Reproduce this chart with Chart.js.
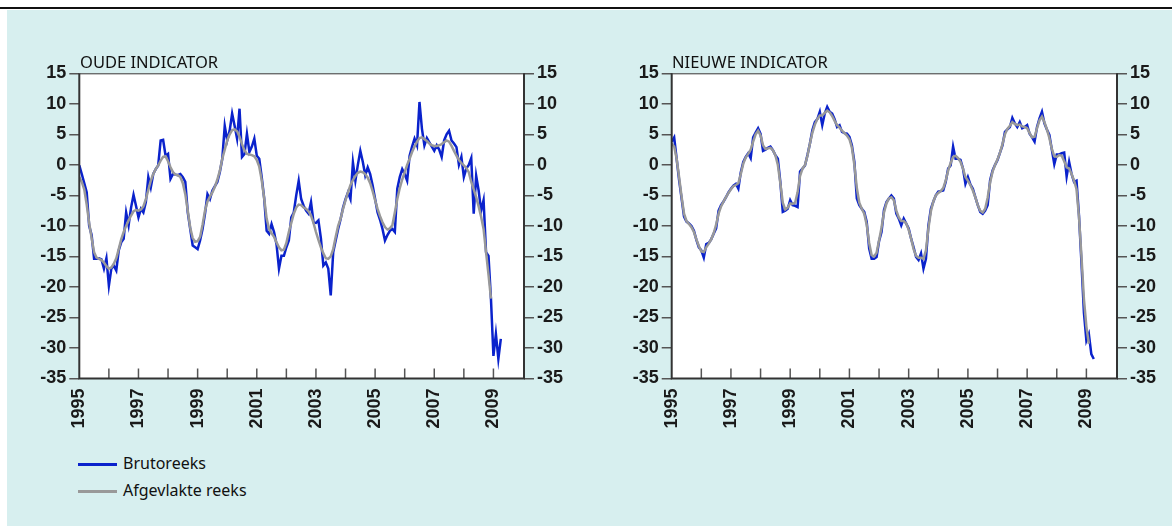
<!DOCTYPE html>
<html>
<head>
<meta charset="utf-8">
<script src="https://cdn.jsdelivr.net/npm/chart.js@4.4.1/dist/chart.umd.min.js"></script>
<style>
  body { margin: 0; width: 1172px; height: 526px; background: #fff; overflow: hidden; position: relative; font-family: "Noto Sans", sans-serif; }
  #topline { position: absolute; left: 0; top: 7px; width: 1172px; height: 2px; background: #111; }
  #panel { position: absolute; left: 7px; top: 10px; right: 0; bottom: 0; background: #d7efef; }
  canvas { position: absolute; top: 0; }
  .title { position: absolute; top: 50px; font-size: 16.5px; color: #111; letter-spacing: 0px; }
  .legend { position: absolute; left: 78px; font-size: 16px; color: #111; }
  .legend span { display: inline-block; width: 39px; height: 3px; vertical-align: middle; margin-right: 6px; }
</style>
</head>
<body>
<div id="topline"></div>
<div id="panel"></div>
<canvas id="oudeChart" width="586" height="450" style="left:0"></canvas>
<canvas id="nieuweChart" width="586" height="450" style="left:586px"></canvas>
<div class="title" style="left:80px">OUDE INDICATOR</div>
<div class="title" style="left:672px">NIEUWE INDICATOR</div>
<div class="legend" style="top:452px"><span style="background:#0a22cc"></span>Brutoreeks</div>
<div class="legend" style="top:479px"><span style="background:#999"></span>Afgevlakte reeks</div>

<script>
// monthly values, first point = January 1995
const startYear = 1995;
const yearLabels = [1995, 1997, 1999, 2001, 2003, 2005, 2007, 2009];
const yTicks = [15, 10, 5, 0, -5, -10, -15, -20, -25, -30, -35];

const oudeBruto = [
  -0.1, -1.5, -3, -4.5, -10, -11.5, -15.4, -15.4, -15.3, -15.5, -17, -15.3,
  -19.8, -17, -16.5, -17.3, -14, -12.7, -12.1, -7.8, -9.9, -7, -4.9, -6.7,
  -8.6, -7.2, -7.8, -6.1, -2, -3.7, -1.5, -0.7, -0.1, 4, 4.1, 1.5,
  1.8, -2.3, -1.5, -1.6, -1.7, -1.5, -2, -2.8, -7.8, -10.5, -13.2, -13.5,
  -13.8, -12.4, -10.5, -8, -4.8, -5.6, -4.2, -3.5, -2.8, -1.2, 1, 6.4,
  4, 5.6, 8.4, 6.4, 4.3, 9.2, 1.3, 1.8, 5.1, 2.1, 3, 4.3,
  1.5, 1, -2, -5.5, -10.8, -11.3, -9.7, -11, -13, -17, -14.9, -14.9,
  -13.5, -12.4, -8.6, -7.8, -5, -2.6, -5.6, -6.7, -7.5, -8, -6.1, -9.4,
  -9.5, -9.1, -12, -16.5, -16, -17, -21.4, -14.3, -12.4, -10.5, -8.9, -7,
  -5.6, -4.5, -5.6, 0.4, -2.6, 0, 2.3, 0.5, -1.7, -0.4, -1.5, -3.4,
  -5.6, -7.8, -9, -10.5, -12.4, -11.5, -10.8, -10.5, -11, -3.9, -2, -0.7,
  -1.5, -2.6, 1.5, 3, 4.3, 3.2, 10.3, 5.9, 3.2, 4.4, 3.7, 3,
  2.3, 3.2, 2.5, 1.3, 4, 5, 5.6, 4, 3.5, 2.9, 0, 1.3,
  -2, -0.6, 0, 1.1, -8, -1.8, -4.2, -7.5, -5.8, -14.3, -14.9, -22,
  -31.3, -27.7, -31.8, -28.5
];

const oudeAfgevlakt = [
  -2, -2.8, -4, -6.5, -9.5, -12, -14.3, -15.2, -15.4, -15.6, -16, -16.6,
  -17, -16.8, -16.2, -15.3, -13.8, -12.2, -11, -10, -9.1, -8.3, -7.6, -7.4,
  -7.5, -7.3, -6.8, -5.6, -4.1, -2.6, -1.5, -0.7, -0.1, 0.7, 1.3, 1.4,
  0.6, -0.4, -1.2, -1.6, -1.7, -2, -3, -4.8, -7.5, -10.3, -12, -12.6,
  -12.5, -11.8, -9.8, -7.5, -6, -5.2, -4.5, -3.6, -2.4, -1, 1, 2.5,
  4, 5, 5.7, 5.8, 5.5, 4.6, 3.4, 2.4, 1.8, 1.7, 1.6, 1.4,
  0.8, -0.3, -2.5, -5.5, -8.8, -10.5, -11.2, -11.8, -12.7, -13.5, -14, -13.9,
  -12.8, -11, -9.5, -8, -7, -6.5, -6.6, -7, -7.2, -7.6, -8.3, -9.5,
  -11, -12.3, -13.5, -14.5, -15.3, -15.4, -15, -13.8, -11.8, -10, -8.8, -7.2,
  -5.8, -4.5, -3.3, -2.5, -1.8, -1.3, -1.1, -1.2, -1.5, -2.1, -3, -4.3,
  -5.8, -7.2, -8.4, -9.4, -10.2, -10.6, -10.4, -9.9, -7.8, -5.6, -3.8, -2.4,
  -1.2, 0, 1, 2.1, 3, 3.8, 4.4, 4.5, 4.2, 3.9, 3.5, 3.2,
  3.1, 3.1, 3.2, 3.4, 3.7, 4, 3.8, 3.1, 2.3, 1.5, 0.8, 0.3,
  -0.1, -0.5, -1.2, -2.8, -4, -5.3, -6.8, -8.5, -10.5, -14.3, -18, -21.9
];

const nieuweBruto = [
  3.8, 4.5, 1, -2.5, -5.5, -8.5, -9.3, -9.6, -10, -10.8, -12.3, -13.5,
  -14, -15.2, -13, -12.8, -12.2, -11.3, -10.4, -7.5, -6.6, -6, -5.3, -4.5,
  -3.9, -3.4, -3.1, -3.9, -1.2, 0.5, 1.3, 1.9, 1.1, 4.5, 5.3, 6,
  5.1, 2.3, 2.5, 2.8, 3, 2.4, 1.6, 1, -2.8, -7.7, -7.5, -7.2,
  -5.8, -6.6, -6.7, -6.9, -1.1, -0.6, -0.1, 1.6, 3.5, 5.7, 7, 7.5,
  8.7, 6.5, 8.4, 9.5, 8.7, 8.4, 7.5, 6.2, 6.5, 5.4, 5.2, 5.1,
  4.6, 3.2, 0.5, -5.5, -6.6, -7.2, -7.7, -9.3, -13.7, -15.4, -15.4, -15.1,
  -12.5, -11, -7.4, -6.1, -5.5, -5, -5.5, -8, -8.8, -9.9, -8.8, -9.6,
  -10.4, -12.1, -13.5, -15.1, -15.6, -14.5, -17, -15.4, -9.9, -7.2, -6, -5,
  -4.4, -4.3, -4.2, -2.8, -0.6, -0.1, 3, 1, 1, 0.8, -0.6, -3.1,
  -2, -3.2, -3.9, -5.3, -6.6, -7.7, -8, -7.5, -6.6, -2.5, -0.9, 0,
  0.8, 2, 3.2, 5.4, 5.8, 6.2, 7.7, 6.8, 6.2, 7, 6, 6.2,
  6.5, 5.1, 4.5, 3.8, 6.2, 7.6, 8.7, 6.8, 5.8, 4.9, 2.5, 0.1,
  1.7, 1.7, 1.9, 2, -1.9, 0.5, -1.5, -2.8, -2.6, -8.3, -16, -24.2,
  -28.8, -27.7, -31, -31.8
];

const nieuweAfgevlakt = [
  3.5, 3, 1, -2, -5.2, -8, -9.2, -9.7, -10.2, -11, -12.2, -13.3,
  -14.2, -14.3, -13.5, -12.9, -12.2, -11.2, -9.8, -8, -6.8, -6, -5.3, -4.6,
  -4, -3.5, -3.3, -3, -1.5, 0.2, 1.2, 1.8, 2.5, 3.8, 5, 5.6,
  4.8, 3.2, 2.6, 2.7, 2.8, 2.4, 1.6, 0, -3, -6.2, -7.3, -7,
  -6.3, -6.4, -6.2, -4.5, -1.8, -0.6, 0, 1.5, 3.5, 5.3, 6.6, 7.5,
  8.1, 8.1, 8.5, 8.9, 8.6, 8, 7.2, 6.5, 6.1, 5.6, 5.2, 4.8,
  4.2, 2.8, 0, -3.8, -6.2, -7.2, -8, -9.8, -12.8, -14.8, -15, -14.4,
  -12.4, -10.3, -7.8, -6.3, -5.5, -5.3, -5.8, -7.5, -8.6, -9.2, -9.2, -9.6,
  -10.6, -12.1, -13.8, -14.9, -15.2, -15.2, -15.4, -14, -10.4, -7.6, -6, -5,
  -4.6, -4.3, -3.8, -2.6, -0.9, 0.3, 1.3, 1.5, 1.1, 0.5, -0.6, -2,
  -2.6, -3.3, -4.2, -5.3, -6.6, -7.5, -7.8, -7.2, -5.4, -2.9, -1.1, 0,
  0.9, 2, 3.4, 5, 5.9, 6.4, 7, 6.7, 6.5, 6.6, 6.3, 6.2,
  6, 5.2, 4.5, 4.6, 6, 7.3, 7.9, 7, 5.8, 4.4, 2.6, 1.4,
  1.3, 1.6, 1.5, 0.6, -0.4, -0.6, -1.5, -2.6, -4, -8.5, -15, -22,
  -26.5, -29.3
];

const blue = "#0a22cc";
const grey = "#999999";
const axisColor = "#333333";

// white plot area, frame and inward year ticks on the x axis
const plotFrame = {
  id: "plotFrame",
  beforeDraw(chart) {
    const { ctx, chartArea: a } = chart;
    ctx.save();
    ctx.fillStyle = "#ffffff";
    ctx.fillRect(a.left, a.top, a.right - a.left, a.bottom - a.top);
    ctx.restore();
  },
  afterDraw(chart) {
    const { ctx, chartArea: a, scales } = chart;
    ctx.save();
    ctx.strokeStyle = "#555";
    ctx.lineWidth = 1.5;
    for (let m = 12; m < 180; m += 12) {
      const px = scales.x.getPixelForValue(m);
      ctx.beginPath();
      ctx.moveTo(px, a.bottom);
      ctx.lineTo(px, a.bottom - 10);
      ctx.stroke();
    }
    ctx.strokeStyle = axisColor;
    ctx.lineWidth = 1;
    ctx.beginPath();
    ctx.moveTo(a.left, a.top + 0.5);
    ctx.lineTo(a.right, a.top + 0.5);
    ctx.stroke();
    ctx.lineWidth = 2;
    ctx.beginPath();
    ctx.moveTo(a.left, a.top);
    ctx.lineTo(a.left, a.bottom);
    ctx.lineTo(a.right, a.bottom);
    ctx.lineTo(a.right, a.top);
    ctx.stroke();
    ctx.restore();
  }
};

function toPoints(values) {
  return values.map((v, i) => ({ x: i, y: v }));
}

function makeChart(canvasId, bruto, afgevlakt, leftWidth, rightWidth) {
  const tickFont = { family: "'Liberation Sans', Arial, sans-serif", size: 18, weight: "bold" };
  const yAxis = (position, width) => ({
    type: "linear",
    position: position,
    min: -35,
    max: 15,
    afterBuildTicks: scale => { scale.ticks = yTicks.map(v => ({ value: v })); },
    afterFit: scale => { scale.width = width; },
    border: { display: false },
    grid: { drawOnChartArea: false, drawTicks: true, tickLength: 10, color: "#555", lineWidth: 1.5 },
    ticks: { font: tickFont, color: "#1a1a1a", padding: 3, callback: v => String(v) }
  });

  return new Chart(document.getElementById(canvasId), {
    type: "line",
    data: {
      datasets: [
        {
          label: "Afgevlakte reeks",
          data: toPoints(afgevlakt),
          yAxisID: "y",
          borderColor: grey,
          borderWidth: 2.5,
          pointRadius: 0,
          order: 0
        },
        {
          label: "Brutoreeks",
          data: toPoints(bruto),
          yAxisID: "y",
          borderColor: blue,
          borderWidth: 2.5,
          pointRadius: 0,
          order: 1
        }
      ]
    },
    options: {
      responsive: false,
      animation: false,
      layout: { padding: { top: 73.3, left: 0, right: 0, bottom: 0 } },
      plugins: { legend: { display: false }, tooltip: { enabled: false } },
      scales: {
        x: {
          type: "linear",
          min: 0,
          max: 180.4,
          afterBuildTicks: scale => {
            scale.ticks = yearLabels.map(y => ({ value: (y - startYear) * 12 }));
          },
          afterFit: scale => { scale.height = 71.5; },
          border: { display: false },
          grid: { display: false, drawTicks: false },
          ticks: {
            font: tickFont,
            color: "#1a1a1a",
            autoSkip: false,
            minRotation: 90,
            maxRotation: 90,
            padding: 10,
            callback: v => String(startYear + v / 12)
          }
        },
        y: yAxis("left", leftWidth),
        yRight: yAxis("right", rightWidth)
      }
    },
    plugins: [plotFrame]
  });
}

document.addEventListener("DOMContentLoaded", () => {
  makeChart("oudeChart", oudeBruto, oudeAfgevlakt, 79.3, 62);
  makeChart("nieuweChart", nieuweBruto, nieuweAfgevlakt, 85.7, 55);
});
</script>
</body>
</html>
